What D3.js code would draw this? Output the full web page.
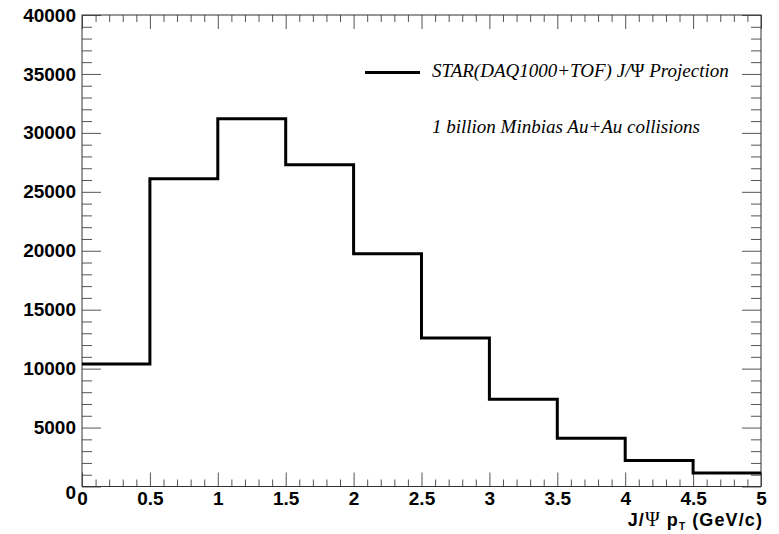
<!DOCTYPE html>
<html>
<head>
<meta charset="utf-8">
<script src="https://cdn.jsdelivr.net/npm/d3@7"></script>
<style>
  body { margin: 0; background: #fff; }
  .tick text { font-family: "Liberation Sans", Arial, sans-serif; font-weight: bold; font-size: 19px; fill: #000; }
  .tick line { stroke: #555; }
</style>
</head>
<body>
<div class="display"></div>
<script>
// bin edges (GeV/c) and J/psi counts per bin
const binEdges = [0, 0.5, 1, 1.5, 2, 2.5, 3, 3.5, 4, 4.5, 5];
const counts = [10400, 26100, 31200, 27300, 19750, 12600, 7400, 4100, 2200, 1150];
const xTicks = [0, 0.5, 1, 1.5, 2, 2.5, 3, 3.5, 4, 4.5, 5];
const yTicks = [0, 5000, 10000, 15000, 20000, 25000, 30000, 35000, 40000];
const legendLabel = 'STAR(DAQ1000+TOF) J/';
const noteLabel = '1 billion Minbias Au+Au collisions';

const width = 779;
const height = 534;
const margin = {left: 82, top: 15, right: 18, bottom: 47.5};

const x = d3.scaleLinear()
    .domain([0, 5])
    .range([margin.left, width - margin.right]);
const y = d3.scaleLinear()
    .domain([0, 40000])
    .range([height - margin.bottom, margin.top]);

const svg = d3.select('.display')
    .append('svg')
    .attr('width', width)
    .attr('height', height);

const xMinor = d3.range(0, 5.0001, 0.1).filter(v => Math.abs(v * 2 - Math.round(v * 2)) > 1e-6);
const yMinor = d3.range(0, 40001, 1000).filter(v => v % 5000 !== 0);

// minor ticks on all four sides
svg.append('g')
    .attr('transform', `translate(0, ${y(0)})`)
    .call(d3.axisBottom(x).tickValues(xMinor).tickSize(-7).tickSizeOuter(0).tickFormat(''));
svg.append('g')
    .attr('transform', `translate(0, ${y(40000)})`)
    .call(d3.axisTop(x).tickValues(xMinor).tickSize(-7).tickSizeOuter(0).tickFormat(''));
svg.append('g')
    .attr('transform', `translate(${x(0)}, 0)`)
    .call(d3.axisLeft(y).tickValues(yMinor).tickSize(-10).tickSizeOuter(0).tickFormat(''));
svg.append('g')
    .attr('transform', `translate(${x(5)}, 0)`)
    .call(d3.axisRight(y).tickValues(yMinor).tickSize(-10).tickSizeOuter(0).tickFormat(''));

// major ticks + labels
svg.append('g')
    .attr('transform', `translate(0, ${y(0)})`)
    .call(d3.axisBottom(x).tickValues(xTicks).tickSize(-14).tickSizeOuter(0).tickPadding(5).tickFormat(d3.format('')));
svg.append('g')
    .attr('transform', `translate(0, ${y(40000)})`)
    .call(d3.axisTop(x).tickValues(xTicks).tickSize(-14).tickSizeOuter(0).tickFormat(''));
const yAxis = svg.append('g')
    .attr('transform', `translate(${x(0)}, 0)`)
    .call(d3.axisLeft(y).tickValues(yTicks).tickSize(-19).tickSizeOuter(0).tickPadding(6).tickFormat(d3.format('d')));
// ROOT puts the zero label a little lower
yAxis.selectAll('.tick').filter(d => d === 0).select('text').attr('dy', '0.62em');
svg.append('g')
    .attr('transform', `translate(${x(5)}, 0)`)
    .call(d3.axisRight(y).tickValues(yTicks).tickSize(-19).tickSizeOuter(0).tickFormat(''));

svg.selectAll('.domain').remove();

// frame
svg.append('rect')
    .attr('x', x(0))
    .attr('y', y(40000))
    .attr('width', x(5) - x(0))
    .attr('height', y(0) - y(40000))
    .attr('fill', 'none')
    .attr('stroke', '#333')
    .attr('stroke-width', 1);

// histogram outline
const stepPoints = counts.map((c, i) => [binEdges[i], c]);
stepPoints.push([binEdges[binEdges.length - 1], counts[counts.length - 1]]);

svg.append('path')
    .datum(stepPoints)
    .attr('fill', 'none')
    .attr('stroke', '#000')
    .attr('stroke-width', 3)
    .attr('d', d3.line().x(d => x(d[0])).y(d => y(d[1])).curve(d3.curveStepAfter));

// legend
svg.append('line')
    .attr('x1', 365).attr('x2', 420)
    .attr('y1', 72.5).attr('y2', 72.5)
    .attr('stroke', '#000')
    .attr('stroke-width', 3);

const legText = svg.append('text')
    .attr('x', 432)
    .attr('y', 77)
    .attr('font-family', '"Liberation Serif", "Times New Roman", serif')
    .attr('font-style', 'italic')
    .attr('font-size', 19);
legText.append('tspan').text(legendLabel);
legText.append('tspan').attr('font-style', 'normal').text('Ψ');
legText.append('tspan').text(' Projection');

svg.append('text')
    .attr('x', 432)
    .attr('y', 133)
    .attr('font-family', '"Liberation Serif", "Times New Roman", serif')
    .attr('font-style', 'italic')
    .attr('font-size', 19)
    .text(noteLabel);

// x axis title
const xTitle = svg.append('text')
    .attr('x', 763)
    .attr('y', 526)
    .attr('text-anchor', 'end')
    .attr('font-family', '"Liberation Sans", Arial, sans-serif')
    .attr('font-weight', 'bold')
    .attr('letter-spacing', 1.1)
    .attr('font-size', 18);
xTitle.append('tspan').text('J/');
xTitle.append('tspan').attr('font-family', '"Liberation Serif", serif').attr('font-weight', 'normal').attr('font-size', 20).text('Ψ');
xTitle.append('tspan').text(' p');
xTitle.append('tspan').attr('font-size', 10).attr('dy', 4).text('T');
xTitle.append('tspan').attr('dy', -4).text(' (GeV/c)');
</script>
</body>
</html>
